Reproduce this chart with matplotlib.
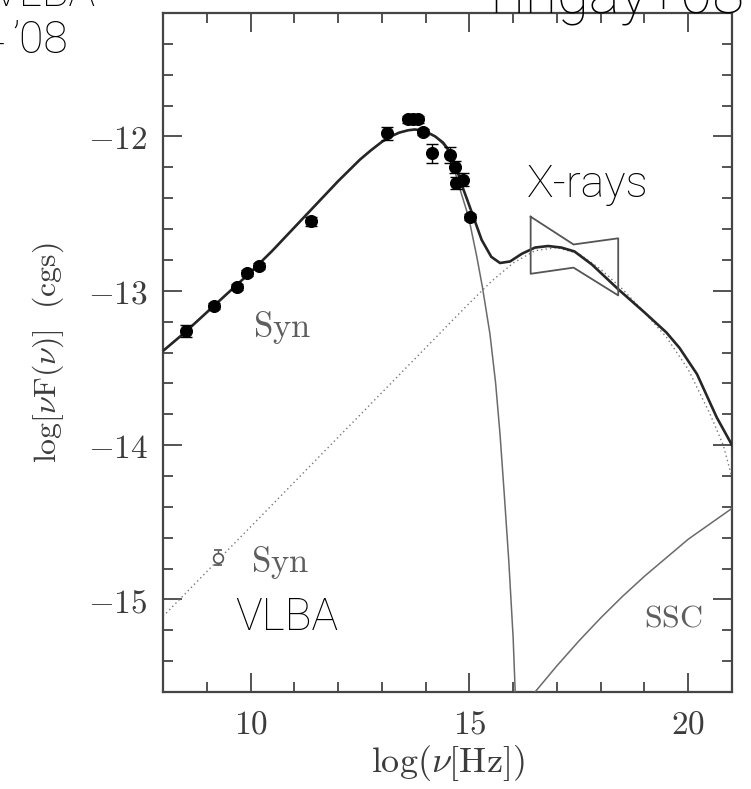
import matplotlib
matplotlib.use("Agg")
import matplotlib.pyplot as plt
from matplotlib.ticker import MultipleLocator

plt.rcParams['mathtext.fontset'] = 'cm'

# ---------------- data ----------------
obs_logv = [8.53, 9.17, 9.70, 9.93, 10.19, 11.38, 13.11, 13.60, 13.72, 13.83,
            13.93, 14.15, 14.56, 14.67, 14.69, 14.85, 15.01]
obs_logf = [-13.26, -13.10, -12.975, -12.885, -12.84, -12.55, -11.98, -11.89,
            -11.89, -11.89, -11.97, -12.11, -12.12, -12.20, -12.30, -12.28, -12.52]
obs_err = [0.04, 0.02, 0.02, 0.02, 0.02, 0.03, 0.04, 0.02, 0.02, 0.02,
           0.02, 0.06, 0.05, 0.04, 0.04, 0.04, 0.02]

vlba_logv = [9.25]
vlba_logf = [-14.73]
vlba_err = [0.05]

total_logv = [8.0, 8.5, 9.0, 9.5, 10.0, 10.5, 11.0, 11.5, 12.0, 12.5, 12.75,
              13.0, 13.2, 13.4, 13.6, 13.75, 13.9, 14.05, 14.22, 14.4, 14.56,
              14.7, 14.82, 14.95, 15.09, 15.28, 15.5, 15.7, 15.93, 16.2, 16.5,
              16.8, 17.1, 17.4, 17.8, 18.4, 19.0, 19.5, 19.8, 20.2, 20.65, 21.0]
total_logf = [-13.39, -13.27, -13.14, -13.01, -12.88, -12.74, -12.59, -12.44,
              -12.29, -12.15, -12.09, -12.035, -12.0, -11.975, -11.96, -11.955,
              -11.96, -11.975, -12.0, -12.04, -12.1, -12.2, -12.31, -12.41,
              -12.52, -12.67, -12.78, -12.82, -12.81, -12.76, -12.72, -12.71,
              -12.72, -12.745, -12.83, -12.99, -13.14, -13.27, -13.37, -13.54,
              -13.82, -14.0]

syn1_logv = [8.0, 8.5, 9.0, 9.5, 10.0, 10.5, 11.0, 11.5, 12.0, 12.5, 12.75,
             13.0, 13.2, 13.4, 13.6, 13.75, 13.9, 14.05, 14.22, 14.4, 14.56,
             14.75, 14.98, 15.17, 15.3, 15.47, 15.6, 15.7, 15.8, 15.9, 16.0, 16.06]
syn1_logf = [-13.39, -13.27, -13.14, -13.01, -12.88, -12.74, -12.59, -12.44,
             -12.29, -12.15, -12.09, -12.035, -12.0, -11.975, -11.96, -11.955,
             -11.96, -11.975, -12.0, -12.05, -12.11, -12.31, -12.52, -12.78,
             -12.98, -13.28, -13.6, -13.93, -14.33, -14.75, -15.25, -15.7]

syn2_logv = [8.0, 9.0, 10.0, 11.0, 12.0, 13.0, 14.0, 15.0, 15.5, 16.0, 16.5,
             17.0, 17.5, 18.0, 18.5, 19.0, 19.5, 20.0, 20.5, 20.8, 21.0]
syn2_logf = [-15.11, -14.82, -14.53, -14.24, -13.95, -13.66, -13.37, -13.08,
             -12.94, -12.82, -12.74, -12.72, -12.76, -12.86, -12.99, -13.14,
             -13.30, -13.51, -13.80, -14.0, -14.21]

ssc_logv = [16.3, 16.5, 17.0, 17.5, 18.0, 18.5, 19.0, 19.5, 20.0, 20.5, 21.0]
ssc_logf = [-15.68, -15.6, -15.43, -15.27, -15.12, -14.98, -14.85, -14.73,
            -14.61, -14.51, -14.41]

xray_logv = [16.40, 17.38, 18.40, 18.40, 17.38, 16.40, 16.40]
xray_logf = [-12.52, -12.70, -12.66, -13.03, -12.85, -12.89, -12.52]

xticks = [10, 15, 20]
xtick_labels = [r'$10$', r'$15$', r'$20$']
yticks = [-15, -14, -13, -12]
ytick_labels = [r'$-15$', r'$-14$', r'$-13$', r'$-12$']

# ---------------- figure ----------------
W, H = 751, 789
fig = plt.figure(figsize=(W / 100, H / 100), dpi=100)
ax = fig.add_axes([163 / W, 1 - 692 / H, 569 / W, 679 / H])

axis_col = '#454545'
text_col = '#3c3c3c'
lab_col = '#5e5e5e'
tick_size = 24

ax.plot(syn2_logv, syn2_logf, color='#777777', lw=1.0, ls=(0, (1, 2.2)), zorder=2)
ax.plot(syn1_logv, syn1_logf, color='#6a6a6a', lw=1.1, zorder=3)
ax.plot(ssc_logv, ssc_logf, color='#6a6a6a', lw=1.1, zorder=3)
ax.plot(total_logv, total_logf, color='#262626', lw=1.9, zorder=4)
ax.plot(xray_logv, xray_logf, color='#555555', lw=1.3, zorder=4)

ax.errorbar(obs_logv, obs_logf, yerr=obs_err, fmt='o', color='black',
            markersize=8.4, elinewidth=1.0, capsize=4, capthick=1.0, zorder=5)
ax.errorbar(vlba_logv, vlba_logf, yerr=vlba_err, fmt='o', mfc='white',
            mec='#555555', ecolor='#555555', markersize=7, mew=1.2,
            elinewidth=1.0, capsize=3, zorder=5)

ax.set_xlim(8, 21)
ax.set_ylim(-15.6, -11.2)
ax.set_xticks(xticks, labels=xtick_labels)
ax.set_yticks(yticks, labels=ytick_labels)
ax.xaxis.set_minor_locator(MultipleLocator(1))
ax.yaxis.set_minor_locator(MultipleLocator(0.2))
ax.tick_params(which='both', direction='in', top=True, right=True,
               color=axis_col, labelcolor=text_col, labelsize=tick_size, pad=11)
ax.tick_params(which='major', length=14, width=1.3)
ax.tick_params(which='minor', length=7, width=1.3)
for s in ax.spines.values():
    s.set_color(axis_col)
    s.set_linewidth(1.6)

ax.set_xlabel(r'$\log(\nu[\mathrm{Hz}])$', fontsize=26, color=text_col, va='center')
ax.xaxis.set_label_coords(0.5, (692 - 763) / 679)
ax.set_ylabel(r'$\log[\nu\mathrm{F}(\nu)]\ \ (\mathrm{cgs})$', fontsize=23,
              color=text_col, va='center')
ax.yaxis.set_label_coords((48 - 163) / 569, 0.5)

# in-plot serif labels
ax.text(10.71, -13.24, r'$\mathrm{Syn}$', fontsize=25, color=lab_col,
        ha='center', va='center')
ax.text(10.67, -14.76, r'$\mathrm{Syn}$', fontsize=25, color=lab_col,
        ha='center', va='center')
ax.text(19.67, -15.12, r'$\mathrm{SSC}$', fontsize=23, color=lab_col,
        ha='center', va='center')

# sans annotations
sans = dict(family=['Roboto', 'Lato', 'DejaVu Sans'], weight='light', color='black')
ax.text(17.71, -12.31, 'X-rays', fontsize=32, ha='center', va='center', **sans)
ax.text(10.83, -15.12, 'VLBA', fontsize=32, ha='center', va='center', **sans)
fig.text(95 / W, 1 - 6 / H, 'VLBA', fontsize=32, ha='right', va='baseline', **sans)
fig.text(5 / W, 1 - 53 / H, '2004', fontsize=32, ha='right', va='baseline', **sans)
fig.text(68 / W, 1 - 53 / H, '\u201908', fontsize=32, ha='right', va='baseline', **sans)
fig.text(745 / W, 1 - 13 / H, 'Tingay+08', fontsize=42, ha='right', va='baseline', **sans)

fig.savefig('out.png', dpi=100)
